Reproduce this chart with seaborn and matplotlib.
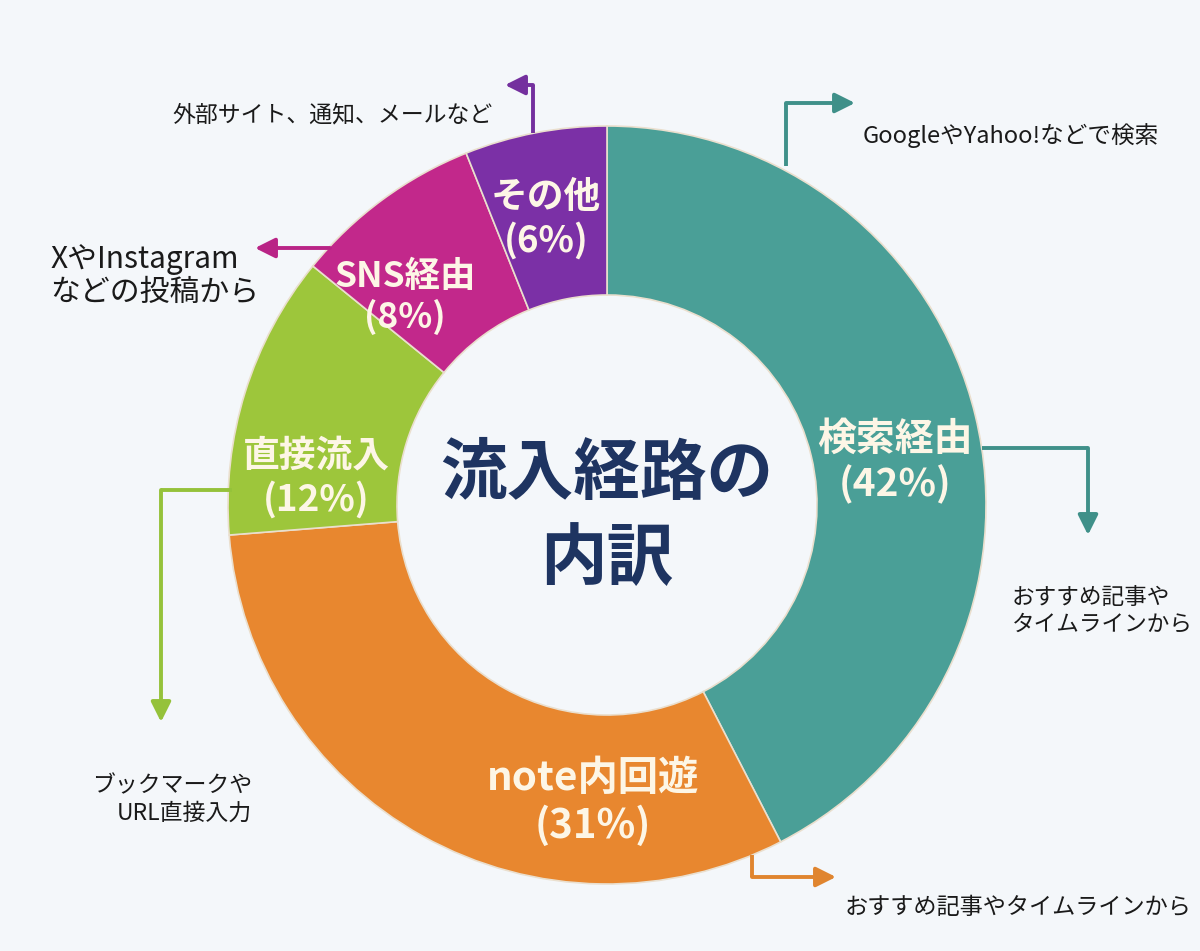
import matplotlib
matplotlib.use("Agg")
import matplotlib.pyplot as plt
import seaborn as sns

sns.set_theme(style="white")
plt.rcParams['font.family'] = ['Noto Sans CJK JP', 'DejaVu Sans']

# data
categories = ["検索経由", "note内回遊", "直接流入", "SNS経由", "その他"]
shares = [42, 31, 12, 8, 6]
colors = ["#4a9f97", "#e8872f", "#9dc63b", "#c2288b", "#7b30a6"]
notes = [
    "GoogleやYahoo!などで検索",
    "おすすめ記事やタイムラインから",
    "ブックマークや\nURL直接入力",
    "XやInstagram\nなどの投稿から",
    "外部サイト、通知、メールなど",
]
extra_note = "おすすめ記事や\nタイムラインから"
center_title = "流入経路の\n内訳"

W, H = 1200, 951
BG = "#f4f7fa"


def Y(y):
    # picture rows -> data y
    return H - y


fig = plt.figure(figsize=(W / 100, H / 100), dpi=100, facecolor=BG)
ax = fig.add_axes([0, 0, 1, 1])
ax.set_facecolor(BG)

cx, cy, R, r_in = 607, Y(505), 379, 210
ax.pie(shares, colors=colors, startangle=90, counterclock=False,
       radius=R, center=(cx, cy), frame=True,
       wedgeprops=dict(width=R - r_in, edgecolor="#eadfce", linewidth=1.2))
ax.set_xlim(0, W)
ax.set_ylim(0, H)
ax.set_aspect("equal")
ax.axis("off")

# slice labels (name + share)
label_pos = [(895, 462), (593, 802), (316, 478), (405, 297), (546, 219)]
label_size = [28, 29, 26.5, 25.5, 26.5]
for name, val, (x, y), fs in zip(categories, shares, label_pos, label_size):
    ax.text(x, Y(y), f"{name}\n({val}%)", ha="center", va="center",
            fontsize=fs, fontweight="bold", color="#fdf6e6", linespacing=1.2)

ax.text(607, Y(517), center_title, ha="center", va="center", fontsize=48,
        fontweight="bold", color="#1e3461", linespacing=1.35)


def connector(points, color):
    xs = [p[0] for p in points[:-1]]
    ys = [Y(p[1]) for p in points[:-1]]
    ax.plot(xs, ys, color=color, lw=2.8, solid_capstyle="butt")
    a, b = points[-2], points[-1]
    ax.annotate("", xy=(b[0], Y(b[1])), xytext=(a[0], Y(a[1])),
                arrowprops=dict(arrowstyle="-|>,head_length=1.0,head_width=0.5",
                                color=color, lw=2.8, shrinkA=0, shrinkB=0))


note_kw = dict(color="#1a1a1a")

# 検索経由
connector([(786, 166), (786, 103), (855, 103)], "#3f9089")
ax.text(863, Y(136), notes[0], ha="left", va="center", fontsize=17, **note_kw)
connector([(982, 448), (1088, 448), (1088, 535)], "#3f9089")
ax.text(1012, Y(611), extra_note, ha="left", va="center", fontsize=16.3,
        linespacing=1.2, **note_kw)

# note内回遊
connector([(752, 855), (752, 877), (836, 877)], "#e0852f")
ax.text(845, Y(908), notes[1], ha="left", va="center", fontsize=16.7, **note_kw)

# 直接流入
connector([(232, 490), (161, 490), (161, 722)], "#95c23a")
ax.text(252, Y(800), notes[2], ha="right", va="center", fontsize=16.5,
        linespacing=1.25, multialignment="right", **note_kw)

# SNS経由
connector([(330, 248), (255, 248)], "#b92486")
ax.text(50, Y(276), notes[3], ha="left", va="center", fontsize=21.5,
        linespacing=1.1, **note_kw)

# その他
connector([(533, 133), (533, 85), (505, 85)], "#74309e")
ax.text(172, Y(115), notes[4], ha="left", va="center", fontsize=16.5, **note_kw)

fig.savefig("out.png", dpi=100, facecolor=BG)
